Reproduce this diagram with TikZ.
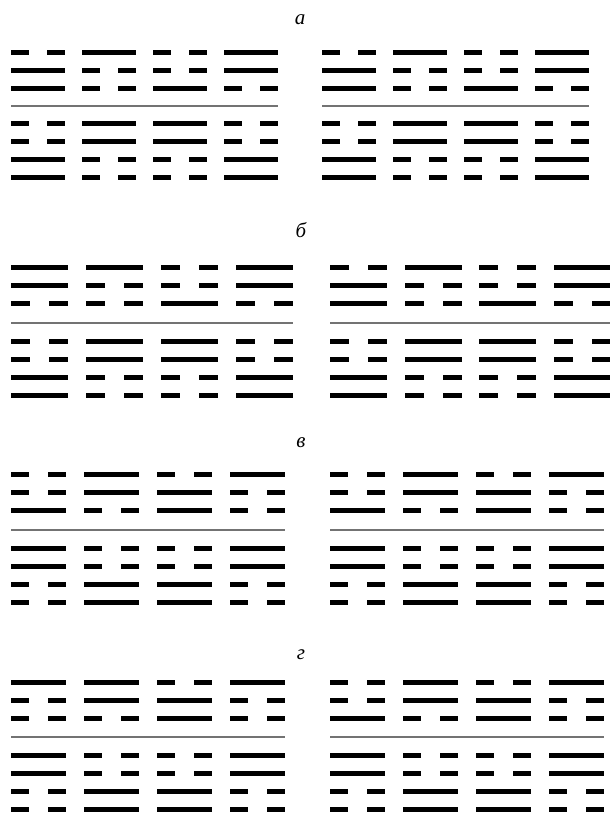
\documentclass[tikz,border=0pt]{standalone}
\usepackage{fontspec}
\setmainfont{Liberation Serif}
\newcommand\yline[4]{%
  \ifnum#4=1
    \fill (#1,#3-2.5) rectangle ({#1+#2},#3+2.5);
  \else
    \fill (#1,#3-2.5) rectangle ({#1+#2/3},#3+2.5);
    \fill ({#1+2*#2/3},#3-2.5) rectangle ({#1+#2},#3+2.5);
  \fi}
\newcommand\hexblock[5]{%
  \foreach \pat [count=\g from 0] in {#5} {
    \foreach \b [count=\r from 0] in \pat {
      \pgfmathsetmacro\xx{#1+\g*#3}
      \pgfmathsetmacro\yy{#4+\r*18}
      \yline{\xx}{#2}{\yy}{\b}
    }
  }}
% x0, w, d, ytop, ysep, ybot, toppatterns, bottompatterns
\newcommand\hexpanel[8]{%
  \hexblock{#1}{#2}{#3}{#4}{#7}
  \draw[sepline] (#1,#5) -- ({#1+3*#3+#2},#5);
  \hexblock{#1}{#2}{#3}{#6}{#8}}
\begin{document}
\begin{tikzpicture}[x=1pt,y=-1pt,
  sepline/.style={draw=black!55, line width=1.1pt},
  lab/.style={font=\itshape\fontsize{21}{24}\selectfont, inner sep=0pt}]
\useasboundingbox (0,0) rectangle (610,814);
% а
\node[lab] (la) at (300,20) {а};
\hexpanel{11}{54}{71}{52}{106}{123}{{0,1,1},{1,0,0},{0,0,1},{1,1,0}}{{0,0,1,1},{1,1,0,0},{1,1,0,0},{0,0,1,1}}
\hexpanel{322}{54}{71}{52}{106}{123}{{0,1,1},{1,0,0},{0,0,1},{1,1,0}}{{0,0,1,1},{1,1,0,0},{1,1,0,0},{0,0,1,1}}
% б
\node[lab] (lb) at (301,230) {б};
\hexpanel{11}{57}{75}{267}{323}{341}{{1,1,0},{1,0,0},{0,0,1},{1,1,0}}{{0,0,1,1},{1,1,0,0},{1,1,0,0},{0,0,1,1}}
\hexpanel{330}{57}{74.7}{267}{323}{341}{{0,1,1},{1,0,0},{0,0,1},{1,1,0}}{{0,0,1,1},{1,1,0,0},{1,1,0,0},{0,0,1,1}}
% в
\node[lab] (lv) at (301,443) {в};
\hexpanel{11}{55}{73}{474}{530}{548}{{0,0,1},{1,1,0},{0,1,1},{1,0,0}}{{1,1,0,0},{0,0,1,1},{0,0,1,1},{1,1,0,0}}
\hexpanel{330}{55}{73}{474}{530}{548}{{0,0,1},{1,1,0},{0,1,1},{1,0,0}}{{1,1,0,0},{0,0,1,1},{0,0,1,1},{1,1,0,0}}
% г
\node[lab] (lg) at (301,655) {г};
\hexpanel{11}{55}{73}{682}{737}{755}{{1,0,0},{1,1,0},{0,1,1},{1,0,0}}{{1,1,0,0},{0,0,1,1},{0,0,1,1},{1,1,0,0}}
\hexpanel{330}{55}{73}{682}{737}{755}{{0,0,1},{1,1,0},{0,1,1},{1,0,0}}{{1,1,0,0},{0,0,1,1},{0,0,1,1},{1,1,0,0}}
\end{tikzpicture}
\end{document}
